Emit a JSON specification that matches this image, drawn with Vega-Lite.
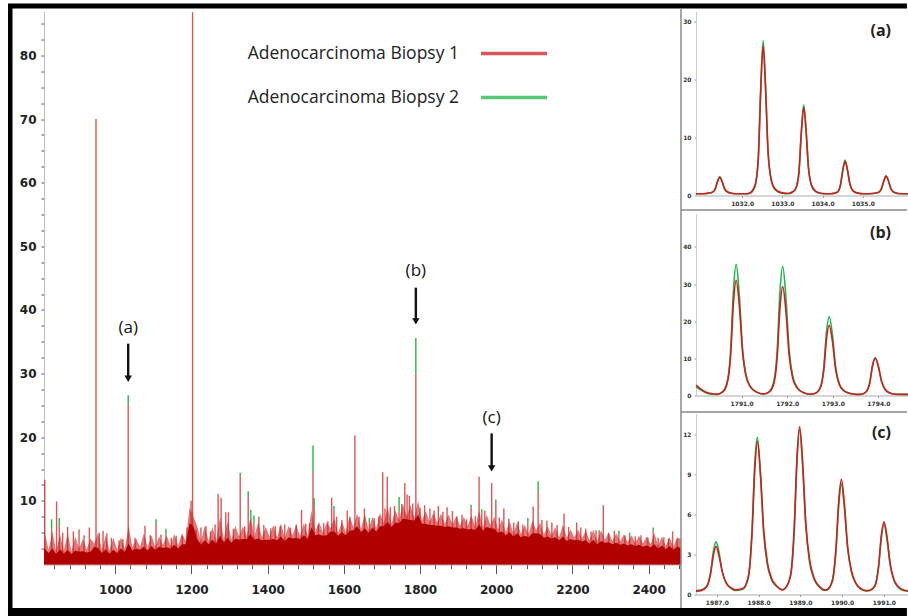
{
"$schema": "https://vega.github.io/schema/vega-lite/v6.json",
"background": "white",
"padding": {"left": 3, "top": 3.5, "right": 0, "bottom": 0},
"bounds": "flush",
"spacing": 15,
"config": {"view": {"stroke": null}, "axis": {"grid": false, "title": null, "labelOverlap": false}},
"datasets": {
"envelope": [
{"mz":813,"lo":2.6,"hi":5.5},{"mz":825,"lo":1.8,"hi":2.3},{"mz":835,"lo":2.5,"hi":5.1},{"mz":845,"lo":1.6,"hi":2.1},{"mz":855,"lo":2.4,"hi":4.7},{"mz":865,"lo":1.7,"hi":2.2},{"mz":875,"lo":2.3,"hi":4.9},{"mz":885,"lo":1.6,"hi":2.1},{"mz":895,"lo":2.2,"hi":4.4},{"mz":905,"lo":2.0,"hi":2.5},{"mz":915,"lo":2.1,"hi":4.0},{"mz":925,"lo":1.9,"hi":2.4},{"mz":935,"lo":2.0,"hi":4.1},{"mz":945,"lo":2.8,"hi":3.3},{"mz":955,"lo":2.6,"hi":5.0},{"mz":965,"lo":1.8,"hi":2.3},{"mz":975,"lo":2.4,"hi":4.6},{"mz":985,"lo":1.7,"hi":2.2},{"mz":995,"lo":2.3,"hi":4.2},
{"mz":1005,"lo":1.8,"hi":2.3},{"mz":1015,"lo":2.5,"hi":4.3},{"mz":1025,"lo":2.0,"hi":2.5},{"mz":1035,"lo":3.3,"hi":6.1},{"mz":1045,"lo":2.2,"hi":2.7},{"mz":1055,"lo":2.5,"hi":4.1},{"mz":1065,"lo":2.3,"hi":2.8},{"mz":1075,"lo":2.8,"hi":4.9},{"mz":1085,"lo":2.2,"hi":2.7},{"mz":1095,"lo":2.9,"hi":4.6},{"mz":1105,"lo":2.3,"hi":2.8},{"mz":1115,"lo":2.8,"hi":4.4},{"mz":1125,"lo":2.6,"hi":3.1},{"mz":1135,"lo":2.7,"hi":4.5},{"mz":1145,"lo":2.5,"hi":3.0},{"mz":1155,"lo":3.1,"hi":4.8},{"mz":1165,"lo":2.5,"hi":3.0},{"mz":1175,"lo":3.2,"hi":4.9},{"mz":1185,"lo":3.2,"hi":3.7},{"mz":1195,"lo":6.5,"hi":9.0},
{"mz":1205,"lo":6.0,"hi":7.5},{"mz":1215,"lo":4.0,"hi":6.0},{"mz":1225,"lo":3.1,"hi":3.6},{"mz":1235,"lo":3.8,"hi":6.1},{"mz":1245,"lo":3.2,"hi":3.7},{"mz":1255,"lo":3.9,"hi":5.9},{"mz":1265,"lo":3.3,"hi":3.8},{"mz":1275,"lo":4.5,"hi":7.5},{"mz":1285,"lo":3.5,"hi":4.0},{"mz":1295,"lo":4.2,"hi":6.7},{"mz":1305,"lo":3.4,"hi":3.9},{"mz":1315,"lo":4.1,"hi":6.1},{"mz":1325,"lo":3.9,"hi":4.4},{"mz":1335,"lo":4.0,"hi":6.0},{"mz":1345,"lo":4.0,"hi":4.5},{"mz":1355,"lo":4.8,"hi":7.4},{"mz":1365,"lo":3.9,"hi":4.4},{"mz":1375,"lo":4.1,"hi":6.6},{"mz":1385,"lo":3.8,"hi":4.3},{"mz":1395,"lo":3.9,"hi":5.9},
{"mz":1405,"lo":3.9,"hi":4.4},{"mz":1415,"lo":4.0,"hi":6.2},{"mz":1425,"lo":3.8,"hi":4.3},{"mz":1435,"lo":4.4,"hi":6.5},{"mz":1445,"lo":3.7,"hi":4.2},{"mz":1455,"lo":4.3,"hi":6.1},{"mz":1465,"lo":4.1,"hi":4.6},{"mz":1475,"lo":4.2,"hi":6.2},{"mz":1485,"lo":4.0,"hi":4.5},{"mz":1495,"lo":4.6,"hi":6.5},{"mz":1505,"lo":4.0,"hi":4.5},{"mz":1515,"lo":5.8,"hi":8.5},{"mz":1525,"lo":4.6,"hi":5.1},{"mz":1535,"lo":4.7,"hi":6.7},{"mz":1545,"lo":4.5,"hi":5.0},{"mz":1555,"lo":4.6,"hi":6.6},{"mz":1565,"lo":5.2,"hi":5.7},{"mz":1575,"lo":5.2,"hi":7.3},{"mz":1585,"lo":4.5,"hi":5.0},{"mz":1595,"lo":5.1,"hi":6.7},
{"mz":1605,"lo":4.6,"hi":5.1},{"mz":1615,"lo":5.3,"hi":7.6},{"mz":1625,"lo":5.4,"hi":5.9},{"mz":1635,"lo":6.0,"hi":8.0},{"mz":1645,"lo":5.1,"hi":5.6},{"mz":1655,"lo":5.7,"hi":7.9},{"mz":1665,"lo":5.0,"hi":5.5},{"mz":1675,"lo":5.8,"hi":7.5},{"mz":1685,"lo":5.2,"hi":5.7},{"mz":1695,"lo":6.0,"hi":8.1},{"mz":1705,"lo":6.0,"hi":6.5},{"mz":1715,"lo":6.7,"hi":9.0},{"mz":1725,"lo":5.9,"hi":6.4},{"mz":1735,"lo":6.6,"hi":8.5},{"mz":1745,"lo":6.5,"hi":7.0},{"mz":1755,"lo":7.2,"hi":9.5},{"mz":1765,"lo":7.1,"hi":7.6},{"mz":1775,"lo":7.0,"hi":9.3},{"mz":1785,"lo":6.9,"hi":7.4},{"mz":1795,"lo":7.8,"hi":10.0},
{"mz":1805,"lo":6.4,"hi":6.9},{"mz":1815,"lo":6.4,"hi":8.4},{"mz":1825,"lo":6.2,"hi":6.7},{"mz":1835,"lo":6.2,"hi":8.1},{"mz":1845,"lo":6.1,"hi":6.6},{"mz":1855,"lo":6.1,"hi":8.0},{"mz":1865,"lo":5.9,"hi":6.4},{"mz":1875,"lo":6.0,"hi":7.9},{"mz":1885,"lo":5.8,"hi":6.3},{"mz":1895,"lo":5.8,"hi":7.6},{"mz":1905,"lo":5.6,"hi":6.1},{"mz":1915,"lo":5.7,"hi":7.5},{"mz":1925,"lo":5.5,"hi":6.0},{"mz":1935,"lo":5.6,"hi":7.7},{"mz":1945,"lo":5.4,"hi":5.9},{"mz":1955,"lo":6.3,"hi":8.5},{"mz":1965,"lo":5.3,"hi":5.8},{"mz":1975,"lo":5.9,"hi":7.8},{"mz":1985,"lo":5.7,"hi":6.2},{"mz":1995,"lo":5.6,"hi":7.5},
{"mz":2005,"lo":5.0,"hi":5.5},{"mz":2015,"lo":5.2,"hi":7.1},{"mz":2025,"lo":4.6,"hi":5.1},{"mz":2035,"lo":5.1,"hi":6.8},{"mz":2045,"lo":4.4,"hi":4.9},{"mz":2055,"lo":4.9,"hi":6.6},{"mz":2065,"lo":4.3,"hi":4.8},{"mz":2075,"lo":4.5,"hi":6.2},{"mz":2085,"lo":4.3,"hi":4.8},{"mz":2095,"lo":4.9,"hi":6.9},{"mz":2105,"lo":4.9,"hi":5.4},{"mz":2115,"lo":4.8,"hi":6.6},{"mz":2125,"lo":4.2,"hi":4.7},{"mz":2135,"lo":4.4,"hi":6.0},{"mz":2145,"lo":4.1,"hi":4.6},{"mz":2155,"lo":4.3,"hi":5.9},{"mz":2165,"lo":3.8,"hi":4.3},{"mz":2175,"lo":4.4,"hi":6.3},{"mz":2185,"lo":3.7,"hi":4.2},{"mz":2195,"lo":4.0,"hi":5.5},
{"mz":2205,"lo":3.8,"hi":4.3},{"mz":2215,"lo":3.9,"hi":5.5},{"mz":2225,"lo":3.6,"hi":4.1},{"mz":2235,"lo":3.8,"hi":5.3},{"mz":2245,"lo":3.3,"hi":3.8},{"mz":2255,"lo":3.9,"hi":5.5},{"mz":2265,"lo":3.2,"hi":3.7},{"mz":2275,"lo":3.7,"hi":5.4},{"mz":2285,"lo":3.4,"hi":3.9},{"mz":2295,"lo":3.5,"hi":5.0},{"mz":2305,"lo":3.2,"hi":3.7},{"mz":2315,"lo":3.4,"hi":4.9},{"mz":2325,"lo":3.1,"hi":3.6},{"mz":2335,"lo":3.3,"hi":4.7},{"mz":2345,"lo":3.0,"hi":3.5},{"mz":2355,"lo":3.2,"hi":4.6},{"mz":2365,"lo":2.9,"hi":3.4},{"mz":2375,"lo":3.1,"hi":4.5},{"mz":2385,"lo":2.8,"hi":3.3},{"mz":2395,"lo":3.0,"hi":4.4},
{"mz":2405,"lo":2.7,"hi":3.2},{"mz":2415,"lo":3.2,"hi":4.9},{"mz":2425,"lo":2.5,"hi":3.0},{"mz":2435,"lo":3.0,"hi":4.4},{"mz":2445,"lo":2.4,"hi":2.9},{"mz":2455,"lo":2.9,"hi":4.3},{"mz":2465,"lo":2.3,"hi":2.8},{"mz":2475,"lo":2.8,"hi":4.3},{"mz":2485,"lo":2.6,"hi":4.0}
],
"peaks": [
{"mz":815,"s1":13.3,"s2":12.0},{"mz":833,"s1":5.5,"s2":7.1},{"mz":846,"s1":9.9,"s2":9.0},{"mz":853,"s1":6.0,"s2":7.3},{"mz":862,"s1":5.0,"s2":4.5},{"mz":875,"s1":5.9,"s2":5.5},{"mz":890,"s1":5.2,"s2":4.8},{"mz":905,"s1":5.5,"s2":5.0},{"mz":918,"s1":4.6,"s2":4.0},{"mz":932,"s1":5.8,"s2":5.2},{"mz":949.5,"s1":70.0,"s2":7.0},{"mz":958,"s1":5.0,"s2":4.5},{"mz":968,"s1":5.3,"s2":4.8},{"mz":978,"s1":4.9,"s2":4.4},{"mz":990,"s1":4.2,"s2":3.8},
{"mz":1010,"s1":3.8,"s2":3.5},{"mz":1020,"s1":4.0,"s2":3.7},{"mz":1034,"s1":25.3,"s2":26.6},{"mz":1052,"s1":4.2,"s2":3.9},{"mz":1078,"s1":6.1,"s2":5.5},{"mz":1092,"s1":4.6,"s2":4.2},{"mz":1107,"s1":6.4,"s2":7.1},{"mz":1120,"s1":4.7,"s2":4.3},{"mz":1133,"s1":4.8,"s2":5.6},{"mz":1147,"s1":4.2,"s2":3.9},{"mz":1160,"s1":4.5,"s2":4.1},{"mz":1176,"s1":4.5,"s2":4.0},{"mz":1188,"s1":5.8,"s2":5.3},{"mz":1199,"s1":10.0,"s2":9.0},{"mz":1203,"s1":86.8,"s2":8.0},
{"mz":1212,"s1":5.5,"s2":5.0},{"mz":1225,"s1":5.8,"s2":5.2},{"mz":1238,"s1":6.0,"s2":5.4},{"mz":1250,"s1":5.2,"s2":4.8},{"mz":1262,"s1":6.3,"s2":5.6},{"mz":1270,"s1":11.1,"s2":10.5},{"mz":1278,"s1":10.5,"s2":8.5},{"mz":1290,"s1":8.2,"s2":7.5},{"mz":1297,"s1":8.2,"s2":7.4},{"mz":1310,"s1":5.6,"s2":5.0},{"mz":1328,"s1":13.9,"s2":14.4},{"mz":1340,"s1":6.0,"s2":5.4},{"mz":1349,"s1":10.6,"s2":11.5},{"mz":1356,"s1":7.0,"s2":8.6},{"mz":1364,"s1":6.5,"s2":7.7},{"mz":1377,"s1":7.5,"s2":6.9},{"mz":1390,"s1":6.2,"s2":5.6},
{"mz":1408,"s1":5.7,"s2":5.1},{"mz":1420,"s1":6.0,"s2":5.3},{"mz":1433,"s1":6.0,"s2":5.5},{"mz":1445,"s1":6.3,"s2":5.6},{"mz":1460,"s1":5.8,"s2":5.1},{"mz":1475,"s1":6.3,"s2":5.8},{"mz":1489,"s1":8.6,"s2":7.9},{"mz":1500,"s1":6.4,"s2":5.9},{"mz":1510,"s1":6.5,"s2":6.0},{"mz":1519,"s1":14.5,"s2":18.7},{"mz":1522,"s1":9.0,"s2":10.4},{"mz":1533,"s1":6.3,"s2":5.8},{"mz":1547,"s1":6.5,"s2":5.9},{"mz":1558,"s1":6.8,"s2":6.3},{"mz":1568,"s1":10.5,"s2":9.8},{"mz":1574,"s1":8.5,"s2":9.2},{"mz":1581,"s1":7.5,"s2":6.9},{"mz":1595,"s1":7.0,"s2":6.5},
{"mz":1609,"s1":8.5,"s2":7.7},{"mz":1616,"s1":7.2,"s2":7.5},{"mz":1629,"s1":20.3,"s2":19.0},{"mz":1640,"s1":7.5,"s2":6.9},{"mz":1654,"s1":8.8,"s2":8.0},{"mz":1667,"s1":6.5,"s2":7.3},{"mz":1680,"s1":7.3,"s2":6.8},{"mz":1692,"s1":7.6,"s2":7.0},{"mz":1702,"s1":14.5,"s2":13.0},{"mz":1708,"s1":8.8,"s2":8.1},{"mz":1714,"s1":13.8,"s2":12.5},{"mz":1722,"s1":9.0,"s2":8.3},{"mz":1733,"s1":9.2,"s2":8.5},{"mz":1745,"s1":8.3,"s2":10.6},{"mz":1752,"s1":9.5,"s2":8.8},{"mz":1760,"s1":12.8,"s2":12.2},{"mz":1766,"s1":11.0,"s2":10.0},{"mz":1772,"s1":10.8,"s2":10.2},{"mz":1781,"s1":9.6,"s2":9.0},{"mz":1789,"s1":30.0,"s2":35.6},
{"mz":1800,"s1":8.9,"s2":8.3},{"mz":1812,"s1":9.3,"s2":8.7},{"mz":1826,"s1":8.8,"s2":8.2},{"mz":1837,"s1":8.5,"s2":7.9},{"mz":1848,"s1":9.2,"s2":8.5},{"mz":1860,"s1":8.3,"s2":7.8},{"mz":1871,"s1":9.0,"s2":8.4},{"mz":1885,"s1":8.4,"s2":7.9},{"mz":1897,"s1":7.6,"s2":7.1},{"mz":1910,"s1":7.8,"s2":7.2},{"mz":1922,"s1":7.1,"s2":6.6},{"mz":1934,"s1":8.9,"s2":9.4},{"mz":1945,"s1":7.6,"s2":7.0},{"mz":1955,"s1":13.8,"s2":12.0},{"mz":1962,"s1":8.2,"s2":8.7},{"mz":1970,"s1":8.5,"s2":7.9},{"mz":1988,"s1":12.8,"s2":12.3},{"mz":1999,"s1":9.5,"s2":10.2},
{"mz":2008,"s1":7.4,"s2":6.8},{"mz":2020,"s1":8.8,"s2":8.2},{"mz":2033,"s1":7.2,"s2":6.6},{"mz":2046,"s1":6.6,"s2":6.1},{"mz":2058,"s1":6.8,"s2":6.2},{"mz":2070,"s1":6.3,"s2":5.8},{"mz":2083,"s1":6.6,"s2":7.3},{"mz":2097,"s1":9.1,"s2":8.4},{"mz":2110,"s1":11.4,"s2":13.1},{"mz":2120,"s1":7.0,"s2":6.5},{"mz":2133,"s1":6.9,"s2":6.4},{"mz":2146,"s1":6.6,"s2":6.0},{"mz":2160,"s1":6.2,"s2":5.7},{"mz":2178,"s1":8.0,"s2":7.4},{"mz":2190,"s1":5.9,"s2":5.4},
{"mz":2211,"s1":6.6,"s2":6.1},{"mz":2222,"s1":5.8,"s2":5.3},{"mz":2235,"s1":5.6,"s2":5.1},{"mz":2249,"s1":5.2,"s2":4.8},{"mz":2262,"s1":5.4,"s2":5.0},{"mz":2270,"s1":4.9,"s2":5.4},{"mz":2281,"s1":9.3,"s2":8.6},{"mz":2295,"s1":5.0,"s2":4.6},{"mz":2310,"s1":5.3,"s2":4.8},{"mz":2322,"s1":4.8,"s2":5.3},{"mz":2338,"s1":4.6,"s2":4.2},{"mz":2350,"s1":4.5,"s2":5.0},{"mz":2365,"s1":4.4,"s2":4.0},{"mz":2380,"s1":4.6,"s2":4.1},{"mz":2398,"s1":4.3,"s2":3.9},
{"mz":2412,"s1":5.4,"s2":5.8},{"mz":2425,"s1":4.2,"s2":3.8},{"mz":2440,"s1":4.3,"s2":3.9},{"mz":2452,"s1":4.1,"s2":3.7},{"mz":2463,"s1":5.2,"s2":4.6},{"mz":2475,"s1":4.0,"s2":3.6}
],
"annotations": [
{"label":"(a)","mz":1034,"tail":34.7,"head":29.2,"ty":37.2},
{"label":"(b)","mz":1789,"tail":43.5,"head":38.2,"ty":46.2},
{"label":"(c)","mz":1988,"tail":20.6,"head":15.1,"ty":23.1}
],
"insetA": [
{"mz":1030.85,"s1":0.3,"s2":0.3},{"mz":1031.0,"s1":0.3,"s2":0.3},{"mz":1031.1,"s1":0.35,"s2":0.35},{"mz":1031.24,"s1":0.5,"s2":0.5},{"mz":1031.32,"s1":1.0,"s2":1.0},{"mz":1031.38,"s1":2.3,"s2":2.3},{"mz":1031.44,"s1":3.1,"s2":3.25},{"mz":1031.5,"s1":2.4,"s2":2.4},{"mz":1031.56,"s1":1.2,"s2":1.1},{"mz":1031.64,"s1":0.6,"s2":0.55},{"mz":1031.74,"s1":0.4,"s2":0.35},{"mz":1031.9,"s1":0.3,"s2":0.3},
{"mz":1032.1,"s1":0.3,"s2":0.3},{"mz":1032.2,"s1":0.5,"s2":0.4},{"mz":1032.32,"s1":1.8,"s2":1.6},{"mz":1032.4,"s1":6.5,"s2":6.3},{"mz":1032.46,"s1":18.0,"s2":18.2},{"mz":1032.52,"s1":25.8,"s2":26.7},{"mz":1032.58,"s1":18.6,"s2":19.0},{"mz":1032.64,"s1":8.0,"s2":7.8},{"mz":1032.72,"s1":2.8,"s2":2.7},{"mz":1032.82,"s1":1.1,"s2":1.0},{"mz":1032.97,"s1":0.5,"s2":0.45},
{"mz":1033.15,"s1":0.35,"s2":0.35},{"mz":1033.25,"s1":0.6,"s2":0.6},{"mz":1033.33,"s1":1.2,"s2":1.1},{"mz":1033.41,"s1":3.9,"s2":3.9},{"mz":1033.47,"s1":10.7,"s2":10.9},{"mz":1033.53,"s1":15.2,"s2":15.6},{"mz":1033.59,"s1":11.0,"s2":11.2},{"mz":1033.65,"s1":4.7,"s2":4.6},{"mz":1033.73,"s1":1.7,"s2":1.6},{"mz":1033.83,"s1":0.7,"s2":0.65},{"mz":1033.98,"s1":0.35,"s2":0.35},
{"mz":1034.2,"s1":0.3,"s2":0.3},{"mz":1034.36,"s1":0.55,"s2":0.5},{"mz":1034.44,"s1":1.7,"s2":1.6},{"mz":1034.5,"s1":4.2,"s2":4.3},{"mz":1034.56,"s1":5.9,"s2":6.1},{"mz":1034.62,"s1":4.3,"s2":4.4},{"mz":1034.68,"s1":2.0,"s2":1.9},{"mz":1034.76,"s1":0.8,"s2":0.75},{"mz":1034.86,"s1":0.45,"s2":0.4},
{"mz":1035.05,"s1":0.3,"s2":0.3},{"mz":1035.25,"s1":0.35,"s2":0.35},{"mz":1035.38,"s1":0.5,"s2":0.5},{"mz":1035.46,"s1":1.1,"s2":1.1},{"mz":1035.52,"s1":2.4,"s2":2.5},{"mz":1035.58,"s1":3.3,"s2":3.4},{"mz":1035.64,"s1":2.5,"s2":2.5},{"mz":1035.7,"s1":1.2,"s2":1.1},{"mz":1035.78,"s1":0.55,"s2":0.5},{"mz":1035.9,"s1":0.35,"s2":0.3},{"mz":1036.15,"s1":0.3,"s2":0.3}
],
"insetB": [
{"mz":1790.0,"s1":2.8,"s2":2.4},{"mz":1790.1,"s1":1.8,"s2":1.5},{"mz":1790.2,"s1":1.0,"s2":0.8},{"mz":1790.3,"s1":0.6,"s2":0.4},{"mz":1790.45,"s1":0.35,"s2":0.3},
{"mz":1790.58,"s1":0.9,"s2":1.0},{"mz":1790.68,"s1":3.1,"s2":3.5},{"mz":1790.76,"s1":10.9,"s2":12.4},{"mz":1790.82,"s1":24.8,"s2":28.2},{"mz":1790.88,"s1":31.0,"s2":35.3},{"mz":1790.95,"s1":24.2,"s2":27.0},{"mz":1791.02,"s1":11.8,"s2":12.8},{"mz":1791.1,"s1":5.0,"s2":5.4},{"mz":1791.2,"s1":2.2,"s2":2.3},{"mz":1791.33,"s1":0.9,"s2":0.9},{"mz":1791.48,"s1":0.4,"s2":0.4},
{"mz":1791.6,"s1":0.9,"s2":1.0},{"mz":1791.7,"s1":2.9,"s2":3.5},{"mz":1791.78,"s1":10.3,"s2":12.2},{"mz":1791.84,"s1":23.4,"s2":27.8},{"mz":1791.9,"s1":29.3,"s2":34.8},{"mz":1791.97,"s1":22.9,"s2":26.8},{"mz":1792.04,"s1":11.1,"s2":12.6},{"mz":1792.12,"s1":4.7,"s2":5.3},{"mz":1792.22,"s1":2.0,"s2":2.2},{"mz":1792.35,"s1":0.8,"s2":0.8},{"mz":1792.5,"s1":0.35,"s2":0.35},
{"mz":1792.62,"s1":0.6,"s2":0.6},{"mz":1792.72,"s1":1.9,"s2":2.1},{"mz":1792.8,"s1":6.6,"s2":7.4},{"mz":1792.86,"s1":15.1,"s2":17.0},{"mz":1792.92,"s1":18.9,"s2":21.2},{"mz":1792.99,"s1":14.7,"s2":16.5},{"mz":1793.06,"s1":7.2,"s2":7.8},{"mz":1793.14,"s1":3.0,"s2":3.2},{"mz":1793.24,"s1":1.3,"s2":1.3},{"mz":1793.37,"s1":0.6,"s2":0.55},{"mz":1793.52,"s1":0.3,"s2":0.25},
{"mz":1793.63,"s1":0.35,"s2":0.35},{"mz":1793.73,"s1":1.0,"s2":1.0},{"mz":1793.81,"s1":3.5,"s2":3.4},{"mz":1793.87,"s1":8.0,"s2":8.0},{"mz":1793.93,"s1":10.0,"s2":10.2},{"mz":1794.0,"s1":7.8,"s2":7.6},{"mz":1794.07,"s1":3.8,"s2":3.6},{"mz":1794.15,"s1":1.6,"s2":1.5},{"mz":1794.25,"s1":0.7,"s2":0.65},{"mz":1794.38,"s1":0.35,"s2":0.3},{"mz":1794.67,"s1":0.3,"s2":0.3}
],
"insetC": [
{"mz":1986.5,"s1":0.25,"s2":0.3},{"mz":1986.63,"s1":0.3,"s2":0.35},{"mz":1986.76,"s1":0.6,"s2":0.65},{"mz":1986.85,"s1":1.55,"s2":1.7},{"mz":1986.92,"s1":3.0,"s2":3.3},{"mz":1986.98,"s1":3.6,"s2":3.95},{"mz":1987.05,"s1":2.9,"s2":3.2},{"mz":1987.13,"s1":1.7,"s2":1.7},{"mz":1987.22,"s1":0.9,"s2":0.85},{"mz":1987.32,"s1":0.55,"s2":0.5},{"mz":1987.44,"s1":0.35,"s2":0.3},
{"mz":1987.62,"s1":0.45,"s2":0.4},{"mz":1987.75,"s1":1.3,"s2":1.2},{"mz":1987.84,"s1":4.5,"s2":4.7},{"mz":1987.91,"s1":9.5,"s2":10.0},{"mz":1987.97,"s1":11.5,"s2":11.8},{"mz":1988.04,"s1":9.2,"s2":9.2},{"mz":1988.12,"s1":4.9,"s2":4.6},{"mz":1988.21,"s1":2.4,"s2":2.2},{"mz":1988.31,"s1":1.2,"s2":1.1},{"mz":1988.43,"s1":0.65,"s2":0.6},{"mz":1988.57,"s1":0.35,"s2":0.35},
{"mz":1988.63,"s1":0.45,"s2":0.45},{"mz":1988.76,"s1":1.4,"s2":1.3},{"mz":1988.85,"s1":4.9,"s2":4.6},{"mz":1988.92,"s1":10.4,"s2":10.1},{"mz":1988.98,"s1":12.6,"s2":12.4},{"mz":1989.05,"s1":10.1,"s2":9.8},{"mz":1989.13,"s1":5.3,"s2":5.1},{"mz":1989.22,"s1":2.6,"s2":2.4},{"mz":1989.32,"s1":1.3,"s2":1.2},{"mz":1989.44,"s1":0.65,"s2":0.6},{"mz":1989.58,"s1":0.35,"s2":0.3},
{"mz":1989.63,"s1":0.35,"s2":0.35},{"mz":1989.76,"s1":1.0,"s2":0.95},{"mz":1989.85,"s1":3.4,"s2":3.2},{"mz":1989.92,"s1":7.1,"s2":6.8},{"mz":1989.98,"s1":8.65,"s2":8.3},{"mz":1990.05,"s1":6.9,"s2":6.6},{"mz":1990.13,"s1":3.6,"s2":3.5},{"mz":1990.22,"s1":1.8,"s2":1.7},{"mz":1990.32,"s1":0.9,"s2":0.85},{"mz":1990.44,"s1":0.45,"s2":0.4},{"mz":1990.58,"s1":0.3,"s2":0.25},
{"mz":1990.65,"s1":0.3,"s2":0.3},{"mz":1990.78,"s1":0.65,"s2":0.6},{"mz":1990.87,"s1":2.1,"s2":2.0},{"mz":1990.94,"s1":4.5,"s2":4.3},{"mz":1991.0,"s1":5.45,"s2":5.3},{"mz":1991.07,"s1":4.4,"s2":4.2},{"mz":1991.15,"s1":2.3,"s2":2.2},{"mz":1991.24,"s1":1.1,"s2":1.05},{"mz":1991.34,"s1":0.6,"s2":0.55},{"mz":1991.46,"s1":0.35,"s2":0.3},{"mz":1991.6,"s1":0.25,"s2":0.25}
]
},
"hconcat": [
{
"width": 637, "height": 553,
"layer": [
{"data": {"name": "envelope"}, "mark": {"type": "area", "color": "#e27878"},
 "encoding": {
  "x": {"field": "mz", "type": "quantitative", "scale": {"domain": [813, 2485], "nice": false, "zero": false},
   "axis": {"values": [840,880,920,960,1000,1040,1080,1120,1160,1200,1240,1280,1320,1360,1400,1440,1480,1520,1560,1600,1640,1680,1720,1760,1800,1840,1880,1920,1960,2000,2040,2080,2120,2160,2200,2240,2280,2320,2360,2400,2440,2480],
    "tickCount": 100, "format": "d", "labelOverlap": false, "labelExpr": "datum.value % 200 === 0 ? datum.label : ''",
    "tickSize": {"condition": {"test": "datum.value % 200 === 0", "value": 9}, "value": 4},
    "labelFont": "DejaVu Sans", "labelFontWeight": "bold", "labelFontSize": 12, "labelColor": "#222",
    "tickColor": "#555", "domainColor": "#aaa", "labelPadding": 11}},
  "y": {"field": "hi", "type": "quantitative", "scale": {"domain": [0, 86.9], "nice": false},
   "axis": {"values": [2.5,5,7.5,10,12.5,15,17.5,20,22.5,25,27.5,30,32.5,35,37.5,40,42.5,45,47.5,50,52.5,55,57.5,60,62.5,65,67.5,70,72.5,75,77.5,80,82.5,85],
    "tickCount": 100, "labelOverlap": false, "labelExpr": "datum.value % 10 === 0 ? datum.label : ''", "tickSize": 3,
    "labelFont": "DejaVu Sans", "labelFontWeight": "bold", "labelFontSize": 12, "labelColor": "#222",
    "tickColor": "#555", "domainColor": "#bbb", "labelPadding": 5}}
 }},
{"data": {"name": "peaks"}, "transform": [{"filter": "datum.s2 > datum.s1"}], "mark": {"type": "rule", "strokeWidth": 1.4},
 "encoding": {
  "x": {"field": "mz", "type": "quantitative"},
  "y": {"field": "s2", "type": "quantitative"}, "y2": {"field": "s1"},
  "color": {"datum": "Adenocarcinoma Biopsy 2", "type": "nominal",
   "scale": {"domain": ["Adenocarcinoma Biopsy 1", "Adenocarcinoma Biopsy 2"], "range": ["#cc1f1f", "#22b548"]},
   "legend": {"orient": "none", "legendX": 435, "legendY": 7, "title": null, "symbolType": "stroke", "symbolSize": 4356,
    "symbolStrokeWidth": 3.5, "symbolOpacity": 1, "labelFont": "Open Sans", "labelFontSize": 17.5, "labelColor": "#222",
    "labelAlign": "right", "labelOffset": -90, "rowPadding": -29, "labelLimit": 400}}
 }},
{"data": {"name": "peaks"}, "mark": {"type": "rule", "strokeWidth": 1.4, "opacity": 0.75},
 "encoding": {
  "x": {"field": "mz", "type": "quantitative"},
  "y": {"field": "s1", "type": "quantitative"}, "y2": {"datum": 0},
  "color": {"datum": "Adenocarcinoma Biopsy 1", "type": "nominal"}
 }},
{"data": {"name": "envelope"}, "mark": {"type": "area", "color": "#b00000"},
 "encoding": {"x": {"field": "mz", "type": "quantitative"}, "y": {"field": "lo", "type": "quantitative"}}},
{"data": {"name": "annotations"}, "mark": {"type": "rule", "strokeWidth": 2.4, "color": "#111"},
 "encoding": {"x": {"field": "mz", "type": "quantitative"}, "y": {"field": "tail", "type": "quantitative"}, "y2": {"field": "head"}}},
{"data": {"name": "annotations"}, "mark": {"type": "point", "shape": "triangle-down", "filled": true, "size": 55, "color": "#111", "opacity": 1},
 "encoding": {"x": {"field": "mz", "type": "quantitative"}, "y": {"field": "head", "type": "quantitative"}}},
{"data": {"name": "annotations"}, "mark": {"type": "text", "font": "Open Sans", "fontSize": 17, "color": "#111", "baseline": "middle"},
 "encoding": {"x": {"field": "mz", "type": "quantitative"}, "y": {"field": "ty", "type": "quantitative"}, "text": {"field": "label"}}},
{"data": {"values": [{}]}, "mark": {"type": "rule", "color": "black", "strokeWidth": 4.5}, "encoding": {"x": {"datum": 724.4}, "y": {"datum": 87.76}, "y2": {"datum": -8.09}}},
{"data": {"values": [{}]}, "mark": {"type": "rule", "color": "black", "strokeWidth": 5}, "encoding": {"x": {"datum": 718.5}, "x2": {"datum": 3078}, "y": {"datum": 87.76}}},
{"data": {"values": [{}]}, "mark": {"type": "rule", "color": "black", "strokeWidth": 8}, "encoding": {"x": {"datum": 718.5}, "x2": {"datum": 3078}, "y": {"datum": -7.46}}},
{"data": {"values": [{}]}, "mark": {"type": "rule", "color": "#8a8a8a", "strokeWidth": 1.5}, "encoding": {"x": {"datum": 2485}, "y": {"datum": 87.3}, "y2": {"datum": -6.85}}},
{"data": {"values": [{}]}, "mark": {"type": "rule", "color": "#8a8a8a", "strokeWidth": 1.5}, "encoding": {"x": {"datum": 2485}, "x2": {"datum": 3078}, "y": {"datum": 55.7}}},
{"data": {"values": [{}]}, "mark": {"type": "rule", "color": "#8a8a8a", "strokeWidth": 1.5}, "encoding": {"x": {"datum": 2485}, "x2": {"datum": 3078}, "y": {"datum": 23.95}}}
]
},
{
"vconcat": [
{
"width": 213, "height": 184,
"title": {"text": "(a)", "anchor": "end", "frame": "group", "offset": -35, "dx": -18, "baseline": "middle", "font": "Open Sans", "fontSize": 16, "fontWeight": "bold", "color": "#222"},
"data": {"name": "insetA"},
"layer": [
{"mark": {"type": "line", "strokeWidth": 1.6, "interpolate": "monotone"},
 "encoding": {
  "x": {"field": "mz", "type": "quantitative", "scale": {"domain": [1030.85, 1036.15], "nice": false, "zero": false},
   "axis": {"values": [1032,1033,1034,1035], "format": ".1f", "labelFont": "DejaVu Sans", "labelFontWeight": "bold", "labelFontSize": 6, "labelColor": "#333", "tickSize": 2, "tickColor": "#999", "domainColor": "#aaa", "labelPadding": 3}},
  "y": {"field": "s2", "type": "quantitative", "scale": {"domain": [0, 31.7], "nice": false},
   "axis": {"values": [0,10,20,30], "labelFont": "DejaVu Sans", "labelFontWeight": "bold", "labelFontSize": 6, "labelColor": "#333", "tickSize": 2, "tickColor": "#999", "domainColor": "#ccc", "labelPadding": 3}},
  "color": {"datum": "Adenocarcinoma Biopsy 2", "type": "nominal"}}},
{"mark": {"type": "line", "strokeWidth": 1.6, "interpolate": "monotone"},
 "encoding": {"x": {"field": "mz", "type": "quantitative"}, "y": {"field": "s1", "type": "quantitative"}, "color": {"datum": "Adenocarcinoma Biopsy 1", "type": "nominal"}}}
]
},
{
"width": 213, "height": 182,
"title": {"text": "(b)", "anchor": "end", "frame": "group", "offset": -35, "dx": -18, "baseline": "middle", "font": "Open Sans", "fontSize": 16, "fontWeight": "bold", "color": "#222"},
"data": {"name": "insetB"},
"layer": [
{"mark": {"type": "line", "strokeWidth": 1.6, "interpolate": "monotone"},
 "encoding": {
  "x": {"field": "mz", "type": "quantitative", "scale": {"domain": [1790.0, 1794.67], "nice": false, "zero": false},
   "axis": {"values": [1791,1792,1793,1794], "format": ".1f", "labelFont": "DejaVu Sans", "labelFontWeight": "bold", "labelFontSize": 6, "labelColor": "#333", "tickSize": 2, "tickColor": "#999", "domainColor": "#aaa", "labelPadding": 3}},
  "y": {"field": "s2", "type": "quantitative", "scale": {"domain": [0, 49], "nice": false},
   "axis": {"values": [0,10,20,30,40], "labelFont": "DejaVu Sans", "labelFontWeight": "bold", "labelFontSize": 6, "labelColor": "#333", "tickSize": 2, "tickColor": "#999", "domainColor": "#ccc", "labelPadding": 3}},
  "color": {"datum": "Adenocarcinoma Biopsy 2", "type": "nominal"}}},
{"mark": {"type": "line", "strokeWidth": 1.6, "interpolate": "monotone"},
 "encoding": {"x": {"field": "mz", "type": "quantitative"}, "y": {"field": "s1", "type": "quantitative"}, "color": {"datum": "Adenocarcinoma Biopsy 1", "type": "nominal"}}}
]
},
{
"width": 213, "height": 181,
"title": {"text": "(c)", "anchor": "end", "frame": "group", "offset": -35, "dx": -18, "baseline": "middle", "font": "Open Sans", "fontSize": 16, "fontWeight": "bold", "color": "#222"},
"data": {"name": "insetC"},
"layer": [
{"mark": {"type": "line", "strokeWidth": 1.6, "interpolate": "monotone"},
 "encoding": {
  "x": {"field": "mz", "type": "quantitative", "scale": {"domain": [1986.5, 1991.6], "nice": false, "zero": false},
   "axis": {"values": [1987,1988,1989,1990,1991], "format": ".1f", "labelFont": "DejaVu Sans", "labelFontWeight": "bold", "labelFontSize": 6, "labelColor": "#333", "tickSize": 2, "tickColor": "#999", "domainColor": "#aaa", "labelPadding": 3}},
  "y": {"field": "s2", "type": "quantitative", "scale": {"domain": [0, 13.58], "nice": false},
   "axis": {"values": [0,3,6,9,12], "labelFont": "DejaVu Sans", "labelFontWeight": "bold", "labelFontSize": 6, "labelColor": "#333", "tickSize": 2, "tickColor": "#999", "domainColor": "#ccc", "labelPadding": 3}},
  "color": {"datum": "Adenocarcinoma Biopsy 2", "type": "nominal"}}},
{"mark": {"type": "line", "strokeWidth": 1.6, "interpolate": "monotone"},
 "encoding": {"x": {"field": "mz", "type": "quantitative"}, "y": {"field": "s1", "type": "quantitative"}, "color": {"datum": "Adenocarcinoma Biopsy 1", "type": "nominal"}}}
]
}
],
"spacing": 18,
"bounds": "flush"
}
]
}
